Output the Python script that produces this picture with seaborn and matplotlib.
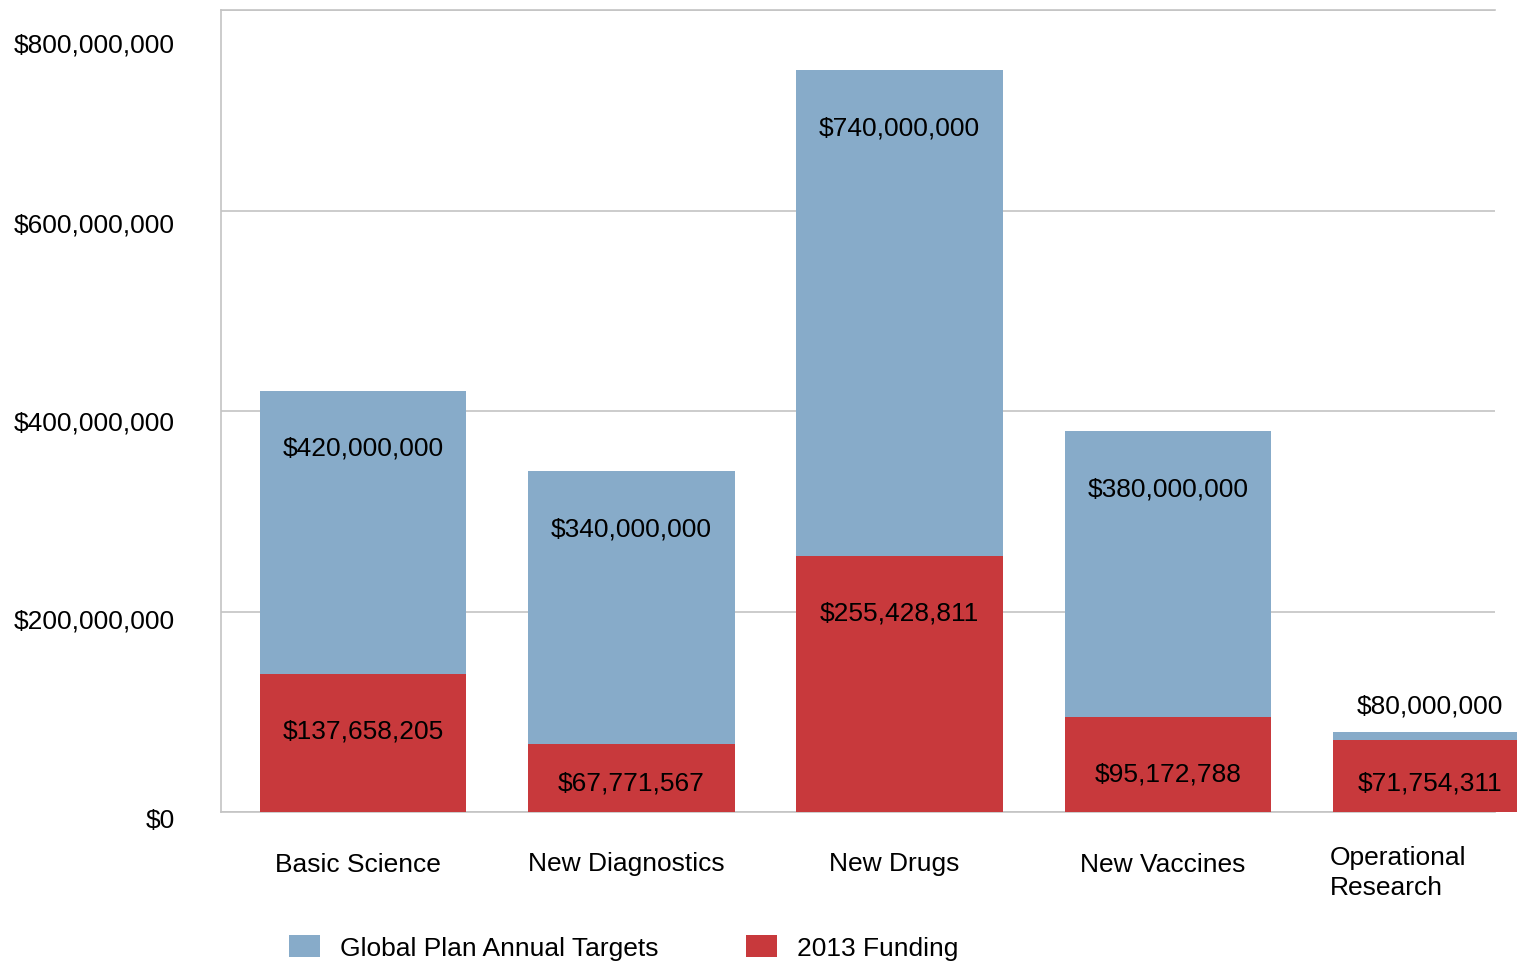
import pandas as pd
import numpy as np
import matplotlib.pyplot as plt
import matplotlib.transforms as mtransforms
import seaborn as sns
from matplotlib.ticker import FuncFormatter
from matplotlib.patches import Patch

categories = ['Basic Science', 'New Diagnostics', 'New Drugs', 'New Vaccines', 'Operational\nResearch']
targets = [420000000, 340000000, 740000000, 380000000, 80000000]
funding = [137658205, 67771567, 255428811, 95172788, 71754311]

blue = '#87ABC9'
red = '#C8393C'
grid_col = '#C4C4C4'

sns.set_theme(style='white')
plt.rcParams['font.family'] = ['Liberation Sans', 'DejaVu Sans']
plt.rcParams['text.color'] = 'black'
plt.rcParams['xtick.color'] = 'black'
plt.rcParams['ytick.color'] = 'black'

df = pd.DataFrame({'category': categories, 'target': targets, 'funding': funding})

fig = plt.figure(figsize=(15.17, 9.64), dpi=100)
ax = fig.add_axes([221 / 1517, 1 - 812 / 964, (1495 - 221) / 1517, 802 / 964])

sns.barplot(data=df, x='category', y='target', color=blue, width=0.77,
            saturation=1, ax=ax, zorder=2)
sns.barplot(data=df, x='category', y='funding', color=red, width=0.77,
            saturation=1, ax=ax, zorder=3)
for p in ax.patches:
    p.set_clip_on(False)
    p.set_edgecolor('none')

ax.set_xlim(-0.53, 4.22)
ax.set_ylim(0, 800000000)
ax.set_yticks([0, 200000000, 400000000, 600000000, 800000000])
ax.yaxis.set_major_formatter(FuncFormatter(lambda v, _: '${:,.0f}'.format(v)))
ax.grid(axis='y', color=grid_col, linewidth=1.2, zorder=0)
ax.set_axisbelow(True)
ax.set_xlabel('')
ax.set_ylabel('')
ax.tick_params(axis='y', length=0, pad=33, labelsize=19)
ax.tick_params(axis='x', length=0, pad=27, labelsize=19)

for side in ['left', 'top', 'bottom']:
    ax.spines[side].set_color(grid_col)
    ax.spines[side].set_linewidth(1.2)
ax.spines['right'].set_visible(False)

# y tick labels sit a little below their gridlines in the original
y_shift = [6, 8, 10, 12, 33]
for lbl, s in zip(ax.get_yticklabels(), y_shift):
    lbl.set_transform(lbl.get_transform() + mtransforms.ScaledTranslation(0, -s / 100, fig.dpi_scale_trans))

xlbls = ax.get_xticklabels()
for lbl in xlbls:
    lbl.set_multialignment('left')
    lbl.set_linespacing(1.35)
    lbl.set_transform(lbl.get_transform() + mtransforms.ScaledTranslation(-0.05, -0.03, fig.dpi_scale_trans))
xlbls[-1].set_transform(xlbls[-1].get_transform() + mtransforms.ScaledTranslation(-0.33, 0.07, fig.dpi_scale_trans))

# pixels per data unit
px = 802 / 800000000

for i, (t, f) in enumerate(zip(targets, funding)):
    if t * px > 120:
        ax.annotate('${:,.0f}'.format(t), xy=(i, t), xytext=(0, -58),
                    textcoords='offset pixels', ha='center', va='center', fontsize=19)
    else:
        ax.annotate('${:,.0f}'.format(t), xy=(i, t), xytext=(-6, 25),
                    textcoords='offset pixels', ha='center', va='center', fontsize=19)
    if f * px > 87:
        ax.annotate('${:,.0f}'.format(f), xy=(i, f), xytext=(0, -58),
                    textcoords='offset pixels', ha='center', va='center', fontsize=19)
    else:
        x_off = -6 if i == len(categories) - 1 else 0
        ax.annotate('${:,.0f}'.format(f), xy=(i, 0), xytext=(x_off, 29),
                    textcoords='offset pixels', ha='center', va='center', fontsize=19)

handles = [Patch(facecolor=blue, edgecolor='none'), Patch(facecolor=red, edgecolor='none')]
fig.legend(handles, ['Global Plan Annual Targets', '2013 Funding'], loc='center',
           bbox_to_anchor=(0.411, 1 - 948 / 964), ncol=2, frameon=False, fontsize=19,
           handlelength=1.2, handleheight=0.9, handletextpad=0.75, columnspacing=3.3)

fig.savefig('out.png', dpi=100)
